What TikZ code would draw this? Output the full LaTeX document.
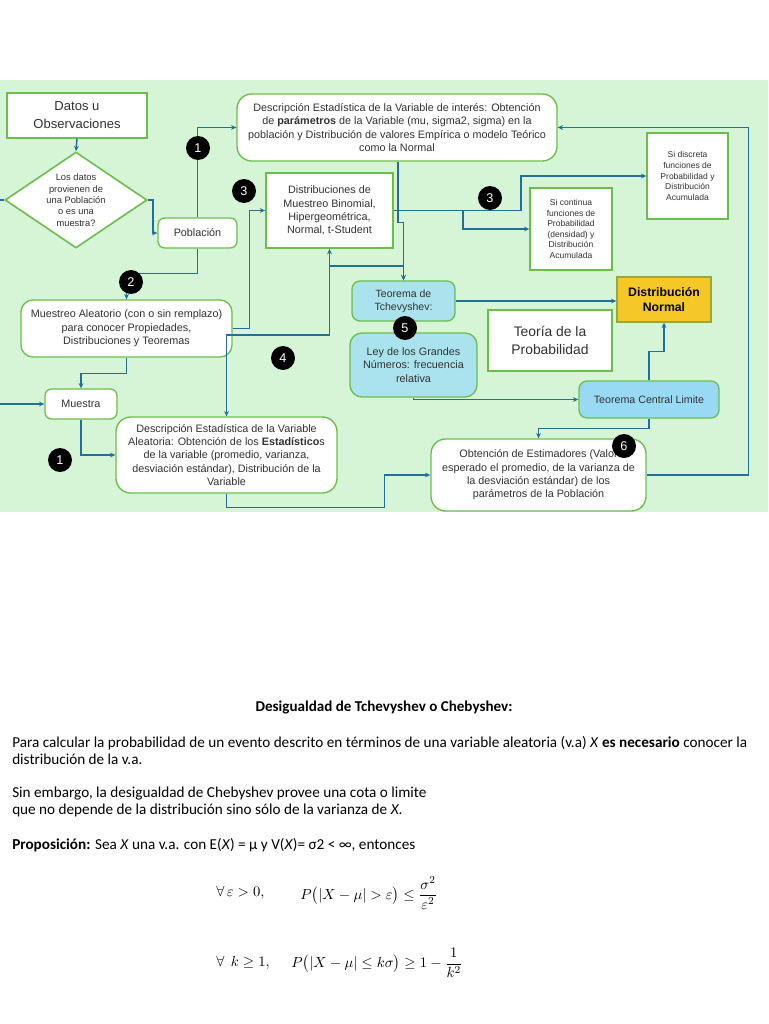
\documentclass[tikz,border=0pt]{standalone}
\usepackage{amsmath}
\usepackage{fontspec}
\setmainfont{Liberation Sans}
\newfontfamily\carl{Carlito}
\usetikzlibrary{shapes.geometric,arrows.meta}
\definecolor{bggreen}{RGB}{213,245,214}
\definecolor{bordergreen}{RGB}{108,190,75}
\definecolor{conncol}{RGB}{36,110,156}
\definecolor{txtgray}{RGB}{50,50,50}
\definecolor{tealfill}{RGB}{170,227,238}
\definecolor{tclfill}{RGB}{152,218,244}
\definecolor{yellowfill}{RGB}{245,200,40}
\tikzset{
  sz/.style 2 args={minimum width=#1*0.75pt, minimum height=#2*0.75pt},
  base/.style={inner sep=0pt, align=center, text=txtgray, font=\fontsize{8.1}{10}\selectfont},
  sqbox/.style={base, draw=bordergreen, line width=1pt, fill=white},
  rbox/.style={sqbox, rounded corners=#1},
  rbox/.default=8pt,
  badge/.style={circle, fill=black, text=white, inner sep=0pt, minimum size=18pt, font=\fontsize{9.5}{10}\selectfont},
  conn/.style={draw=conncol, line width=1.1pt, -{Stealth[length=4pt,width=3.6pt]}},
  wire/.style={draw=conncol, line width=1.1pt},
  para/.style={anchor=base west, inner sep=0pt, text=black, font=\carl\fontsize{11.4}{13}\selectfont},
  formula/.style={anchor=west, inner sep=0pt, text=black, font=\fontsize{11}{13}\selectfont},
}
\begin{document}
\begin{tikzpicture}[x=0.75pt,y=-0.75pt]
\useasboundingbox (0,0) rectangle (768,1024);
\fill[white] (0,0) rectangle (768,1024);
\fill[bggreen] (0,80) rectangle (768,512);

% nodes
\node[sqbox, sz={140}{45}, font=\fontsize{9.8}{13.5}\selectfont] (datos) at (77,115.5) {Datos u\\Observaciones};
\node[diamond, draw=bordergreen, line width=1.2pt, fill=white, sz={142}{96}, inner sep=0pt] (diamond) at (76,200) {};
\node[base, font=\fontsize{7}{8.5}\selectfont] (diamondtxt) at (diamond.center) {Los datos\\provienen de\\una Población\\o es una\\muestra?};
\node[rbox=5pt, sz={79}{30}] (poblacion) at (197.5,233) {Población};
\node[rbox=11pt, sz={320}{67}] (topdesc) at (397,127.5) {Descripción Estadística de la Variable de interés: Obtención\\de \textbf{parámetros} de la Variable (mu, sigma2, sigma) en la\\población y Distribución de valores Empírica o modelo Teórico\\como la Normal};
\node[sqbox, line width=1.4pt, sz={127}{75}] (distrib) at (329.5,210.5) {Distribuciones de\\Muestreo Binomial,\\Hipergeométrica,\\Normal, t-Student};
\node[sqbox, sz={81}{86}, font=\fontsize{6.4}{7.9}\selectfont] (discreta) at (687.5,176) {Si discreta\\funciones de\\Probabilidad y\\Distribución\\Acumulada};
\node[sqbox, sz={82}{82}, font=\fontsize{6.4}{7.9}\selectfont] (continua) at (571,229) {Si continua\\funciones de\\Probabilidad\\(densidad) y\\Distribución\\Acumulada};
\node[rbox=9pt, sz={211}{57}] (muestreo) at (126.5,328.5) {Muestreo Aleatorio (con o sin remplazo)\\para conocer Propiedades,\\Distribuciones y Teoremas};
\node[rbox=5pt, sz={72}{30}] (muestra) at (81,404) {Muestra};
\node[rbox=6pt, fill=tealfill, sz={103}{40}, font=\fontsize{7.9}{10}\selectfont] (teorema) at (403.5,301) {Teorema de\\Tchevyshev:};
\node[rbox=9pt, fill=tealfill, sz={127}{64}] (ley) at (413.5,365) {Ley de los Grandes\\Números: frecuencia\\relativa};
\node[sqbox, fill=yellowfill, draw={rgb,255:red,150;green,170;blue,60}, sz={94}{45}, text=black, font=\bfseries\fontsize{9.2}{11}\selectfont] (normal) at (664,299.5) {Distribución\\Normal};
\node[sqbox, line width=0.8pt, sz={124}{61}, font=\fontsize{10.4}{13.5}\selectfont] (teoria) at (550,340.5) {Teoría de la\\Probabilidad};
\node[rbox=6pt, fill=tclfill, sz={140}{37}, font=\fontsize{8}{10}\selectfont] (tcl) at (649,399.5) {Teorema Central Limite};
\node[rbox=11pt, sz={221}{76}] (descal) at (226.5,455) {Descripción Estadística de la Variable\\Aleatoria: Obtención de los \textbf{Estadístico}s\\de la variable (promedio, varianza,\\desviación estándar), Distribución de la\\Variable};
\node[rbox=11pt, sz={215}{72}] (estim) at (538.5,475) {Obtención de Estimadores (Valor\\esperado el promedio, de la varianza de\\la desviación estándar) de los\\parámetros de la Población};

\coordinate (L1) at (0,200);
\coordinate (L2) at (0,404);

% connectors
\draw[conn] (datos.south) -- (diamond.north);
\draw[conn] (diamond.east) -- ++(5,0) |- (poblacion.west);
\draw[wire] (L1) -- (diamond.west);
\draw[conn] (poblacion.north) |- (topdesc.west);
\draw[conn] (poblacion.south) -- ++(0,25) -| (muestreo.north);
\draw[conn] (muestreo.south) -- ++(0,16) -| (muestra.north);
\draw[conn] (muestreo.east) -- ++(17,0) |- (distrib.west);
\draw[draw=conncol, line width=1.1pt, {Stealth[length=4pt,width=3.6pt]}-{Stealth[length=4pt,width=3.6pt]}] (distrib.south) -- ++(0,86) -| (descal.north);
\draw[conn] ([yshift=-12.75pt]distrib.south) -| (teorema.north);
\draw[conn] ([xshift=0.75pt]topdesc.south) -- ++(0,61) -| (teorema.north);
\draw[conn] (distrib.east) -- ++(127,0) |- (discreta.west);
\draw[conn] ([xshift=51.75pt]distrib.east) |- (continua.west);
\draw[conn] (teorema.east) -- (teorema.east -| normal.west);
\draw[conn] (ley.south) |- (tcl.west);
\draw[conn] (tcl.north) -- ++(0,-29) -| (normal.south);
\draw[conn] (tcl.south) -- ++(0,10) -| (estim.north);
\draw[conn] (estim.east) -- ++(102,0) |- (topdesc.east);
\draw[conn] (descal.south) -- ++(0,14) -| ([xshift=-34.5pt]estim.west) -- (estim.west);
\draw[conn] (muestra.south) |- (descal.west);
\draw[conn] (L2) -- (muestra.west);

% badges
\node[badge] (b1a) at (198,148) {1};
\node[badge] (b3a) at (244,191) {3};
\node[badge] (b3b) at (490,198) {3};
\node[badge] (b2) at (131,282) {2};
\node[badge] (b4) at (283,358) {4};
\node[badge] (b5) at (405,328) {5};
\node[badge] (b1b) at (60,460) {1};
\node[badge] (b6) at (624,446) {6};

% bottom text
\node[anchor=base, inner sep=0pt, text=black, font=\carl\bfseries\fontsize{11.3}{13}\selectfont] (titulo) at (384,711) {Desigualdad de Tchevyshev o Chebyshev:};
\node[para] (p1) at (12,747) {Para calcular la probabilidad de un evento descrito en términos de una variable aleatoria (v.a) \textit{X} \textbf{es necesario} conocer la};
\node[para] (p2) at (12,764) {distribución de la v.a.};
\node[para] (p3) at (12,797) {Sin embargo, la desigualdad de Chebyshev provee una cota o limite};
\node[para] (p4) at (12,814) {que no depende de la distribución sino sólo de la varianza de \textit{X}.};
\node[para] (p5) at (12,849) {\textbf{Proposición:} Sea \textit{X} una v.a. con E(\textit{X}) = μ y V(\textit{X})= σ2 < ∞, entonces};

\node[formula] (f1a) at (216,893) {$\forall\,\varepsilon > 0,$};
\node[formula] (f1b) at (300,893) {$P\bigl(\lvert X-\mu\rvert > \varepsilon\bigr) \le \dfrac{\sigma^2}{\varepsilon^2}$};
\node[formula] (f2a) at (216,963) {$\forall\;\, k \ge 1,$};
\node[formula] (f2b) at (291,963) {$P\bigl(\lvert X-\mu\rvert \le k\sigma\bigr) \ge 1-\dfrac{1}{k^2}$};
\end{tikzpicture}
\end{document}
